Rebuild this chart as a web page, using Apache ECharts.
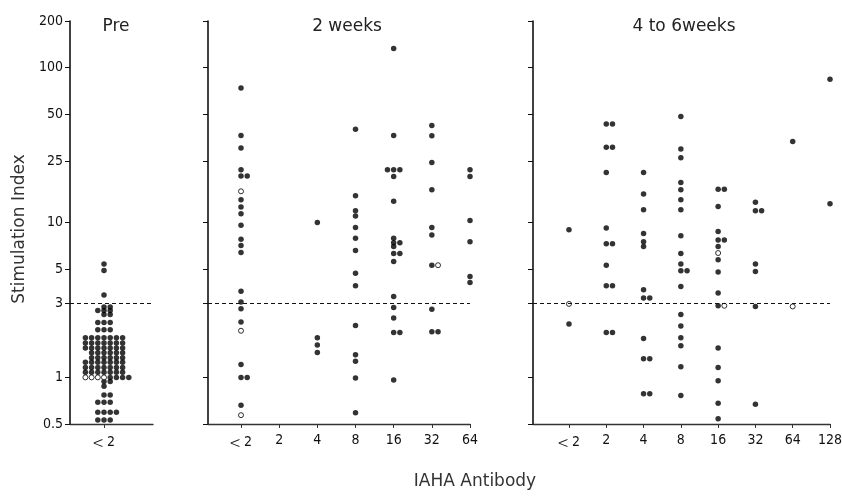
<!DOCTYPE html>
<html>
<head>
<meta charset="utf-8">
<script src="https://cdn.jsdelivr.net/npm/echarts@6/dist/echarts.min.js"></script>
<style>
  html, body { margin: 0; padding: 0; background: #fff; }
  #chart { width: 842px; height: 496px; }
</style>
</head>
<body>
<div id="chart"></div>
<script>
// Stimulation index of lymphocytes against IAHA antibody titre,
// before treatment, at 2 weeks and at 4 to 6 weeks.

const yTickValues = [0.5, 1, 3, 5, 10, 25, 50, 100, 200];
const yTickLabels = ['0.5', '1', '3', '5', '10', '25', '50', '100', '200'];
const thresholdIndex = 3;

// Pre: every sample is < 2; dots stacked by level
const preCategories = ['<2'];
const preLevels      = [5.4, 4.9, 3.4, 2.85, 2.7, 2.55, 2.26, 2.03, 1.80, 1.67, 1.55, 1.44, 1.34, 1.25, 1.16, 1.08, 1.0, 0.94, 0.875, 0.77, 0.69, 0.595, 0.53];
const preFilledCount = [1,   1,   1,   2,    3,   2,    3,    3,    7,    7,    7,    6,    6,    7,    7,    7,    4,   2,    1,     2,    3,    4,     3];
const preOpenCount   = [0,   0,   0,   0,    0,   0,    0,    0,    0,    0,    0,    0,    0,    0,    0,    0,    4,   0,    0,     0,    0,    0,     0];

// 2 weeks
const week2Categories = ['<2', '2', '4', '8', '16', '32', '64'];
const week2Filled = [
  [74, 36.4, 30.3, 21.9, 20, 20, 14, 12.6, 11.4, 9.6, 7.8, 7.1, 6.4, 3.6, 3.07, 2.77, 2.28, 1.21, 1.0, 1.0, 0.66],
  [],
  [10, 1.8, 1.62, 1.45],
  [40, 14.9, 11.9, 11.0, 9.3, 7.9, 6.6, 4.7, 3.9, 2.16, 1.40, 1.27, 0.99, 0.59],
  [133, 36.4, 21.9, 21.9, 21.9, 19.8, 13.7, 7.9, 7.4, 7.4, 7.0, 6.3, 6.3, 5.6, 3.33, 2.83, 2.42, 1.95, 1.95, 0.96],
  [42.3, 36.3, 24.4, 16.3, 9.3, 8.3, 5.3, 2.75, 1.97, 1.97],
  [21.9, 19.8, 10.3, 7.5, 4.48, 4.1]
];
const week2Open = [
  [15.9, 2.0, 0.57],
  [], [], [], [],
  [5.3],
  []
];

// 4 to 6 weeks
const week46Categories = ['<2', '2', '4', '8', '16', '32', '64', '128'];
const week46Filled = [
  [8.97, 2.21],
  [43.3, 43.3, 30.6, 30.6, 21, 9.2, 7.3, 7.3, 5.3, 3.9, 3.9, 1.95, 1.95],
  [21, 15.3, 12.1, 8.5, 7.5, 7.0, 3.68, 3.25, 3.25, 1.78, 1.32, 1.32, 0.785, 0.785],
  [48.3, 29.8, 26.2, 18.1, 16.3, 14.0, 12.1, 8.2, 6.3, 5.4, 4.88, 4.88, 3.86, 2.55, 2.15, 1.80, 1.60, 1.17, 0.765],
  [16.4, 16.4, 12.7, 8.75, 7.7, 7.7, 7.0, 5.75, 4.79, 3.5, 2.9, 1.55, 1.16, 0.95, 0.68, 0.54],
  [13.5, 11.9, 11.9, 5.4, 4.83, 2.87, 0.67],
  [33.3],
  [84.2, 13.2]
];
const week46Open = [
  [2.98],
  [], [], [],
  [6.35, 2.9],
  [],
  [2.87],
  []
];

// ---- dot layout: equal values in one column sit side by side ----
function layoutDots(groups, step) {
  const filled = [], open = [];
  groups.forEach(function (list, c) {
    const rows = new Map();
    list.forEach(function (d) {
      if (!rows.has(d.v)) rows.set(d.v, []);
      rows.get(d.v).push(d);
    });
    rows.forEach(function (row, v) {
      const shift = Math.floor((row.length - 1) / 2);
      row.forEach(function (d, i) {
        (d.open ? open : filled).push([c + (i - shift) * step, v]);
      });
    });
  });
  return { filled: filled, open: open };
}

function preGroups() {
  const list = [];
  preLevels.forEach(function (v, k) {
    for (let i = 0; i < preOpenCount[k]; i++) list.push({ v: v, open: true });
    for (let i = 0; i < preFilledCount[k]; i++) list.push({ v: v, open: false });
  });
  return [list];
}

function columnGroups(filled, open) {
  return filled.map(function (vals, c) {
    return vals.map(function (v) { return { v: v, open: false }; })
      .concat(open[c].map(function (v) { return { v: v, open: true }; }));
  });
}

const plotTop = 21, plotHeight = 403;
const panels = [
  { left: 70,  width: 83,  min: -1,     max: 1.441, cats: preCategories,    groups: preGroups(), labels: true },
  { left: 208, width: 262, min: -0.865, max: 6,     cats: week2Categories,  groups: columnGroups(week2Filled, week2Open), labels: false },
  { left: 533, width: 297, min: -0.965, max: 7,     cats: week46Categories, groups: columnGroups(week46Filled, week46Open), labels: false }
];

const numFont = "'DejaVu Sans Condensed', 'Liberation Sans Narrow', 'DejaVu Sans', sans-serif";
const textFont = "'DejaVu Sans', sans-serif";
const logTicks = yTickValues.map(function (v) { return Math.log10(v); });

// "<2" is set with a large, thin "<"
function catLabel(text) {
  return text.charAt(0) === '<' ? '{lt|<} ' + text.slice(1) : text;
}

const grids = [], xAxes = [], yAxes = [], series = [];

panels.forEach(function (p, i) {
  const unitPx = p.width / (p.max - p.min);
  const step = 6.2 / unitPx;
  const dots = layoutDots(p.groups, step);
  const catIdx = p.cats.map(function (_, k) { return k; });

  grids.push({ left: p.left, top: plotTop, width: p.width, height: plotHeight, outerBoundsMode: 'none', containLabel: false });

  xAxes.push({
    gridIndex: i, type: 'value', min: p.min, max: p.max,
    axisLine: { show: true, onZero: false, lineStyle: { color: '#333', width: 1.3 } },
    axisTick: { show: true, customValues: catIdx, length: 4, lineStyle: { color: '#333', width: 1 } },
    axisLabel: {
      show: true, customValues: catIdx, margin: 9,
      formatter: function (v) { return catLabel(p.cats[Math.round(v)]); },
      fontFamily: numFont, fontSize: 14, color: '#111',
      rich: {
        lt: { fontFamily: "'Noto Sans CJK JP', 'DejaVu Sans', sans-serif", fontSize: 19, fontWeight: 200, color: '#111' }
      }
    },
    splitLine: { show: false }
  });

  // data axis (log scale)
  yAxes.push({ gridIndex: i, type: 'log', logBase: 10, min: 0.5, max: 200, show: false });
  // axis line, ticks and labels at the index levels
  yAxes.push({
    gridIndex: i, type: 'value', position: 'left',
    min: Math.log10(0.5), max: Math.log10(200),
    axisLine: { show: true, onZero: false, lineStyle: { color: '#111', width: 1.6 } },
    axisTick: { show: true, customValues: logTicks, length: 5, lineStyle: { color: '#111', width: 1 } },
    axisLabel: {
      show: p.labels, customValues: logTicks, margin: 7,
      formatter: function (v) {
        let best = 0;
        logTicks.forEach(function (t, k) { if (Math.abs(t - v) < Math.abs(logTicks[best] - v)) best = k; });
        return yTickLabels[best];
      },
      fontFamily: numFont, fontSize: 14, color: '#111'
    },
    splitLine: { show: false }
  });

  series.push({
    type: 'scatter', xAxisIndex: i, yAxisIndex: 2 * i, z: 2,
    symbol: 'circle', symbolSize: 5.5,
    itemStyle: { color: '#000' },
    data: dots.filled,
    markLine: {
      silent: true, symbol: ['none', 'none'], animation: false,
      label: { show: false },
      lineStyle: { type: [4, 3], color: '#111', width: 1 },
      data: [{ yAxis: thresholdIndex }]
    }
  });
  series.push({
    type: 'scatter', xAxisIndex: i, yAxisIndex: 2 * i, z: 3,
    symbol: 'circle', symbolSize: 5,
    itemStyle: { color: '#fff', borderColor: '#000', borderWidth: 1 },
    data: dots.open
  });
});

const chart = echarts.init(document.getElementById('chart'), null, { renderer: 'canvas' });
chart.setOption({
  animation: false,
  backgroundColor: '#fff',
  grid: grids,
  xAxis: xAxes,
  yAxis: yAxes,
  series: series,
  graphic: [
    { type: 'text', x: 116, y: 27, style: { text: 'Pre', font: "17px " + textFont, fill: '#222', textAlign: 'center', textVerticalAlign: 'middle' } },
    { type: 'text', x: 347, y: 27, style: { text: '2 weeks', font: "17px " + textFont, fill: '#222', textAlign: 'center', textVerticalAlign: 'middle' } },
    { type: 'text', x: 684, y: 27, style: { text: '4 to 6weeks', font: "17px " + textFont, fill: '#222', textAlign: 'center', textVerticalAlign: 'middle' } },
    { type: 'text', x: 20, y: 229, rotation: Math.PI / 2, style: { text: 'Stimulation Index', font: "17px " + textFont, fill: '#333', textAlign: 'center', textVerticalAlign: 'middle' } },
    { type: 'text', x: 475, y: 482, style: { text: 'IAHA Antibody', font: "17px " + textFont, fill: '#333', textAlign: 'center', textVerticalAlign: 'middle' } }
  ]
});
</script>
</body>
</html>
